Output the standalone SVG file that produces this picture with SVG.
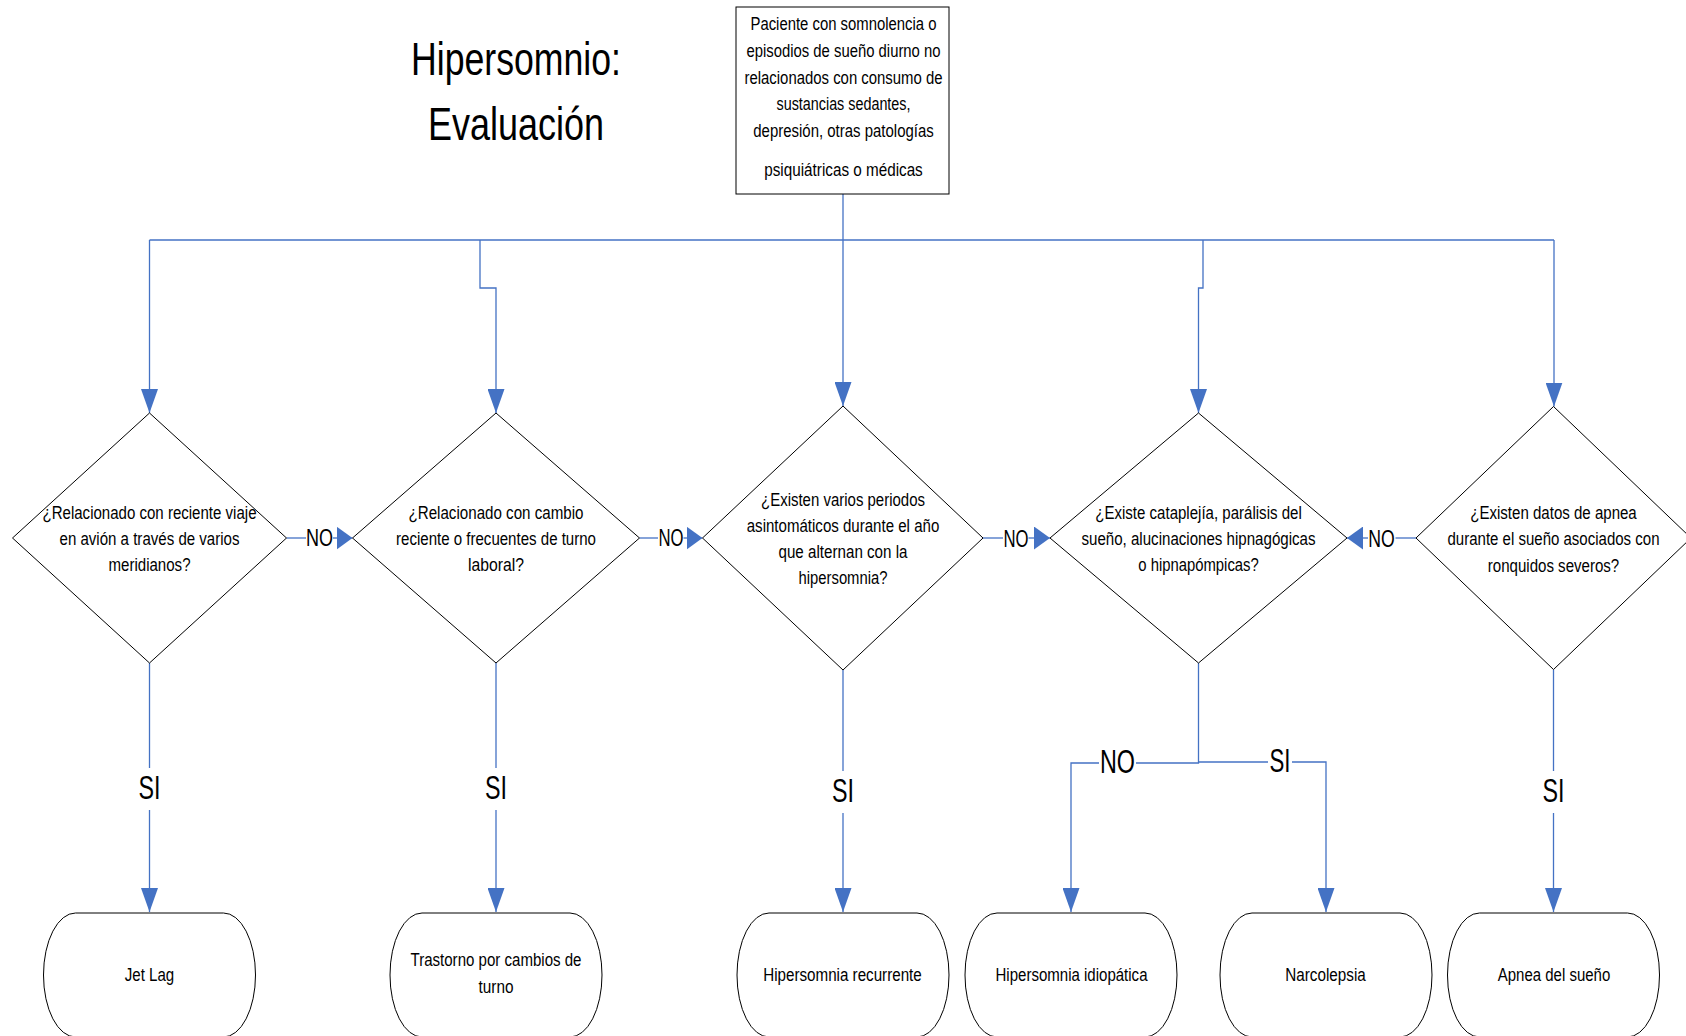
<svg xmlns="http://www.w3.org/2000/svg" width="1686" height="1036" viewBox="0 0 1686 1036">
<style>
text{font-family:"Liberation Sans Narrow","Liberation Sans",Arial,sans-serif;fill:#000;text-anchor:middle}
.t{font-size:17.5px}
.title{font-size:46px}
.lbl{font-size:24.5px}
.big{font-size:34px}
.shape{fill:#fff;stroke:#000;stroke-width:1}
.c{fill:none;stroke:#4472C4;stroke-width:1.3}
.av{marker-end:url(#ahV)}
.ah{marker-end:url(#ahH)}
</style>
<defs>
<marker id="ahV" markerUnits="userSpaceOnUse" viewBox="0 0 24 17" markerWidth="24" markerHeight="17" refX="24" refY="8.5" orient="auto"><path d="M0,0 L24,8.5 L0,17 Z" fill="#4472C4"/></marker>
<marker id="ahH" markerUnits="userSpaceOnUse" viewBox="0 0 16 23" markerWidth="16" markerHeight="23" refX="16" refY="11.5" orient="auto"><path d="M0,0 L16,11.5 L0,23 Z" fill="#4472C4"/></marker>
</defs>
<rect width="1686" height="1036" fill="#fff"/>

<g id="title">
<text class="title" x="516" y="75" textLength="210" lengthAdjust="spacingAndGlyphs">Hipersomnio:</text>
<text class="title" x="516" y="140" textLength="176" lengthAdjust="spacingAndGlyphs">Evaluación</text>
</g>

<g id="connectors">
<path class="c av" d="M843,194 V406"/>
<path class="c" d="M149.5,240 H1554"/>
<path class="c av" d="M149.5,240 V413"/>
<path class="c av" d="M480,240 V288 H496 V413"/>
<path class="c av" d="M1203,240 V288 H1198.5 V413"/>
<path class="c av" d="M1554,240 V406.5"/>
<path class="c" d="M286.5,538 H306"/>
<path class="c ah" d="M333,538 H352.5"/>
<path class="c" d="M639.5,538 H658"/>
<path class="c ah" d="M683.5,538 H702.5"/>
<path class="c" d="M983,538 H1003"/>
<path class="c ah" d="M1028.5,538 H1050"/>
<path class="c" d="M1416,538 H1395.5"/>
<path class="c ah" d="M1368,538 H1347"/>
<path class="c" d="M149.5,663 V768"/>
<path class="c av" d="M149.5,810 V912"/>
<path class="c" d="M496,663 V768"/>
<path class="c av" d="M496,810 V912"/>
<path class="c" d="M843,670 V771"/>
<path class="c av" d="M843,813 V912"/>
<path class="c" d="M1553.5,669.5 V771"/>
<path class="c av" d="M1553.5,813 V912"/>
<path class="c" d="M1198.5,663 V763 H1136"/>
<path class="c av" d="M1099,763 H1071 V912"/>
<path class="c" d="M1198.5,762 H1268"/>
<path class="c av" d="M1292,762 H1326 V912"/>
<text class="lbl" x="319.5" y="546" textLength="27" lengthAdjust="spacingAndGlyphs">NO</text>
<text class="lbl" x="671" y="546" textLength="25" lengthAdjust="spacingAndGlyphs">NO</text>
<text class="lbl" x="1016" y="546.5" textLength="25" lengthAdjust="spacingAndGlyphs">NO</text>
<text class="lbl" x="1381.5" y="546.5" textLength="26.5" lengthAdjust="spacingAndGlyphs">NO</text>
<text class="big" x="149.5" y="799" textLength="22" lengthAdjust="spacingAndGlyphs">SI</text>
<text class="big" x="496" y="799" textLength="22" lengthAdjust="spacingAndGlyphs">SI</text>
<text class="big" x="843" y="802" textLength="22" lengthAdjust="spacingAndGlyphs">SI</text>
<text class="big" x="1553.5" y="802" textLength="22" lengthAdjust="spacingAndGlyphs">SI</text>
<text class="big" x="1117.5" y="773" textLength="35" lengthAdjust="spacingAndGlyphs">NO</text>
<text class="big" x="1280" y="771.5" textLength="21" lengthAdjust="spacingAndGlyphs">SI</text>
</g>

<g id="start">
<rect class="shape" x="736" y="7" width="213" height="187"/>
<text class="t" x="843.5" y="30" textLength="186" lengthAdjust="spacingAndGlyphs">Paciente con somnolencia o</text>
<text class="t" x="843.5" y="57" textLength="194" lengthAdjust="spacingAndGlyphs">episodios de sueño diurno no</text>
<text class="t" x="843.5" y="83.5" textLength="198" lengthAdjust="spacingAndGlyphs">relacionados con consumo de</text>
<text class="t" x="843.5" y="110" textLength="134" lengthAdjust="spacingAndGlyphs">sustancias sedantes,</text>
<text class="t" x="843.5" y="137" textLength="180.5" lengthAdjust="spacingAndGlyphs">depresión, otras patologías</text>
<text class="t" x="843.5" y="176" textLength="158.5" lengthAdjust="spacingAndGlyphs">psiquiátricas o médicas</text>
</g>

<g id="d1">
<polygon class="shape" points="149.5,413 286.5,538 149.5,663 12.5,538"/>
<text class="t" x="149.5" y="518.5" textLength="214" lengthAdjust="spacingAndGlyphs">¿Relacionado con reciente viaje</text>
<text class="t" x="149.5" y="545" textLength="180" lengthAdjust="spacingAndGlyphs">en avión a través de varios</text>
<text class="t" x="149.5" y="571" textLength="82" lengthAdjust="spacingAndGlyphs">meridianos?</text>
</g>

<g id="d2">
<polygon class="shape" points="496,413 639.5,538 496,663 352.5,538"/>
<text class="t" x="496" y="518.5" textLength="175" lengthAdjust="spacingAndGlyphs">¿Relacionado con cambio</text>
<text class="t" x="496" y="545" textLength="200" lengthAdjust="spacingAndGlyphs">reciente o frecuentes de turno</text>
<text class="t" x="496" y="571" textLength="56" lengthAdjust="spacingAndGlyphs">laboral?</text>
</g>

<g id="d3">
<polygon class="shape" points="843,406 983,538 843,670 702.5,538"/>
<text class="t" x="843" y="505.5" textLength="164" lengthAdjust="spacingAndGlyphs">¿Existen varios periodos</text>
<text class="t" x="843" y="531.5" textLength="192.5" lengthAdjust="spacingAndGlyphs">asintomáticos durante el año</text>
<text class="t" x="843" y="557.5" textLength="129" lengthAdjust="spacingAndGlyphs">que alternan con la</text>
<text class="t" x="843" y="583.5" textLength="89" lengthAdjust="spacingAndGlyphs">hipersomnia?</text>
</g>

<g id="d4">
<polygon class="shape" points="1198.5,413 1347,538 1198.5,663 1050,538"/>
<text class="t" x="1198.5" y="518.5" textLength="206.5" lengthAdjust="spacingAndGlyphs">¿Existe cataplejía, parálisis del</text>
<text class="t" x="1198.5" y="545" textLength="234" lengthAdjust="spacingAndGlyphs">sueño, alucinaciones hipnagógicas</text>
<text class="t" x="1198.5" y="571" textLength="120.5" lengthAdjust="spacingAndGlyphs">o hipnapómpicas?</text>
</g>

<g id="d5">
<polygon class="shape" points="1553.5,406.5 1691,538 1553.5,669.5 1416,538"/>
<text class="t" x="1553.5" y="518.5" textLength="166.5" lengthAdjust="spacingAndGlyphs">¿Existen datos de apnea</text>
<text class="t" x="1553.5" y="545" textLength="212" lengthAdjust="spacingAndGlyphs">durante el sueño asociados con</text>
<text class="t" x="1553.5" y="571.5" textLength="131.5" lengthAdjust="spacingAndGlyphs">ronquidos severos?</text>
</g>

<g id="t1">
<rect class="shape" x="43.5" y="913" width="212" height="124" rx="32" ry="62"/>
<text class="t" x="149.5" y="981" textLength="49.5" lengthAdjust="spacingAndGlyphs">Jet Lag</text>
</g>
<g id="t2">
<rect class="shape" x="390" y="913" width="212" height="124" rx="32" ry="62"/>
<text class="t" x="496" y="966" textLength="171" lengthAdjust="spacingAndGlyphs">Trastorno por cambios de</text>
<text class="t" x="496" y="993" textLength="35" lengthAdjust="spacingAndGlyphs">turno</text>
</g>
<g id="t3">
<rect class="shape" x="737" y="913" width="212" height="124" rx="32" ry="62"/>
<text class="t" x="842.5" y="981" textLength="158.5" lengthAdjust="spacingAndGlyphs">Hipersomnia recurrente</text>
</g>
<g id="t4">
<rect class="shape" x="965" y="913" width="212" height="124" rx="32" ry="62"/>
<text class="t" x="1071.5" y="981" textLength="152" lengthAdjust="spacingAndGlyphs">Hipersomnia idiopática</text>
</g>
<g id="t5">
<rect class="shape" x="1220" y="913" width="212" height="124" rx="32" ry="62"/>
<text class="t" x="1325.5" y="981" textLength="80.5" lengthAdjust="spacingAndGlyphs">Narcolepsia</text>
</g>
<g id="t6">
<rect class="shape" x="1447.5" y="913" width="212" height="124" rx="32" ry="62"/>
<text class="t" x="1554" y="981" textLength="112.5" lengthAdjust="spacingAndGlyphs">Apnea del sueño</text>
</g>
</svg>
